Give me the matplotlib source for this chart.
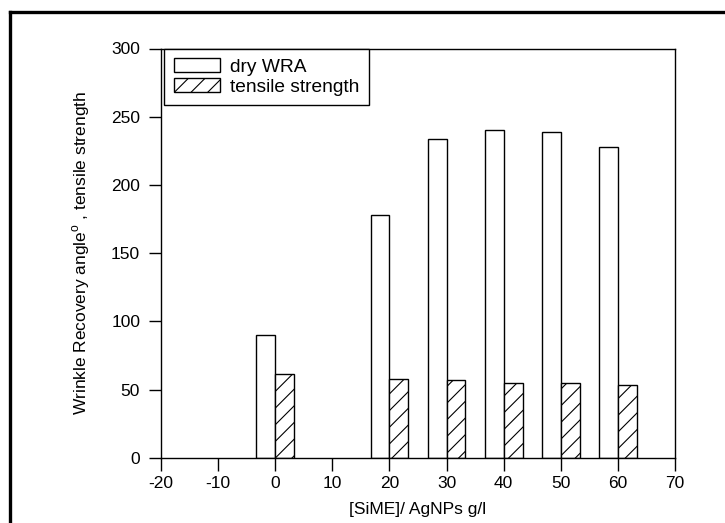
import matplotlib
matplotlib.use("Agg")
import matplotlib.pyplot as plt
from matplotlib.lines import Line2D
from matplotlib.patches import Patch

plt.rcParams['font.family'] = ['Liberation Sans', 'DejaVu Sans']
plt.rcParams['mathtext.fontset'] = 'custom'
plt.rcParams['mathtext.rm'] = 'Liberation Sans'
plt.rcParams['hatch.linewidth'] = 0.8
plt.rcParams['axes.unicode_minus'] = False

# Data
concentration = [0, 20, 30, 40, 50, 60]
dry_wra = [90, 178, 233.5, 240.5, 238.5, 228]
tensile_strength = [61, 58, 57, 55, 55, 53]
x_ticks = [-20, -10, 0, 10, 20, 30, 40, 50, 60, 70]
y_ticks = [0, 50, 100, 150, 200, 250, 300]

fig = plt.figure(figsize=(7.25, 5.23), dpi=100)
ax = fig.add_axes([161/725, 1 - 457.7/523, (675-161)/725, (457.7-48.5)/523])

w = 3.3
ax.bar(concentration, dry_wra, width=-w, align='edge', color='white',
       edgecolor='black', linewidth=1.0, label='dry WRA')
ax.bar(concentration, tensile_strength, width=w, align='edge', color='white',
       edgecolor='black', linewidth=1.0, hatch='//', label='tensile strength')

ax.set_xlim(-20, 70)
ax.set_ylim(0, 300)
ax.set_xticks(x_ticks)
ax.set_yticks(y_ticks)
ax.tick_params(axis='both', direction='out', length=9, width=1.0,
               labelsize=12.5, colors='black', pad=4)
ax.tick_params(axis='y', pad=6)
for s in ax.spines.values():
    s.set_linewidth(1.0)

ax.set_xlabel('[SiME]/ AgNPs g/l', fontsize=12.5, labelpad=8)
ax.set_ylabel(r'Wrinkle Recovery angle$^{\rm o}$ , tensile strength',
              fontsize=12.5, labelpad=14)

handles = [Patch(facecolor='white', edgecolor='black', linewidth=1.0),
           Patch(facecolor='white', edgecolor='black', linewidth=1.0, hatch='//')]
leg = ax.legend(handles, ['dry WRA', 'tensile strength'], loc='upper left',
                bbox_to_anchor=(0.006, 1.0), borderaxespad=0, fancybox=False,
                edgecolor='black', fontsize=13.8, handlelength=2.4,
                handleheight=0.75, handletextpad=0.55, labelspacing=0.12,
                borderpad=0.5, framealpha=1)
leg.get_frame().set_linewidth(1.0)

# outer frame (left and top edges)
fig.lines.append(Line2D([10/725, 10/725], [0, 1 - 11.5/523], transform=fig.transFigure,
                        color='black', linewidth=2.4, solid_capstyle='projecting'))
fig.lines.append(Line2D([10/725, 1], [1 - 11.5/523, 1 - 11.5/523], transform=fig.transFigure,
                        color='black', linewidth=2.4, solid_capstyle='projecting'))

fig.savefig('out.png', dpi=100)
